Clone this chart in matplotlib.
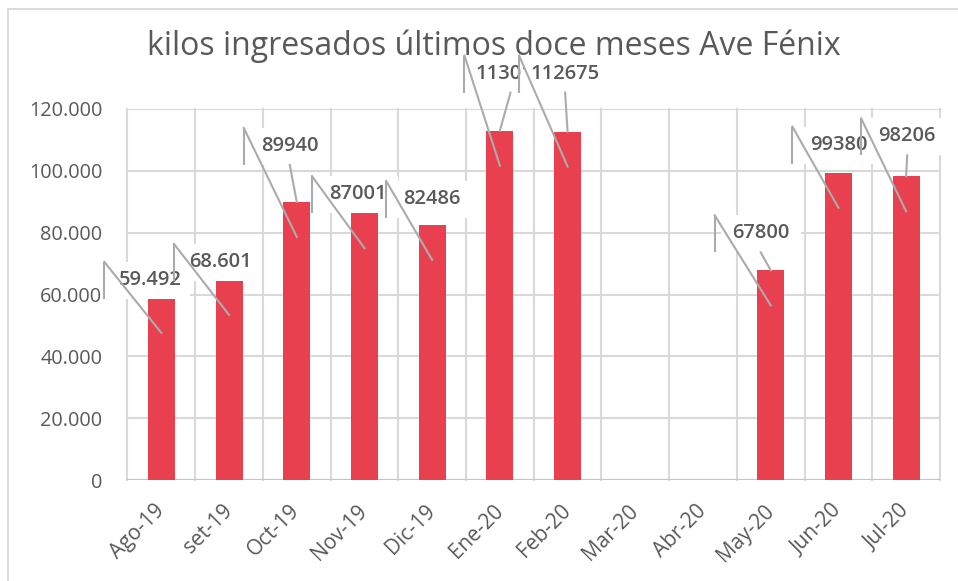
import numpy as np
import matplotlib
matplotlib.use("Agg")
import matplotlib.pyplot as plt
from matplotlib.lines import Line2D
from matplotlib.patches import Rectangle

# ---------------- data ----------------
meses = ["Ago-19", "set-19", "Oct-19", "Nov-19", "Dic-19", "Ene-20",
         "Feb-20", "Mar-20", "Abr-20", "May-20", "Jun-20", "Jul-20"]
kilos = [58900, 64700, 89940, 86300, 82486, 113000,
         112675, np.nan, np.nan, 67800, 99380, 98206]
etiquetas = ["59.492", "68.601", "89940", "87001", "82486", "113012",
             "112675", "", "", "67800", "99380", "98206"]
titulo = "kilos ingresados últimos doce meses Ave Fénix"

# ---------------- layout / style ----------------
# label centre offsets (pixels, x right / y up) from each bar top
lab_dx = [-11, -9, -7, -6.5, 0, 10.6, -2.5, 0, 0, -10, 0, 1]
lab_dy = [18, 18, 56, 19, 26, 57, 58, 0, 0, 37, 28, 40]

RED = "#E8404F"
GRID = "#D9D9D9"
TXT = "#595959"
LEAD = "#ABABAB"
W, H = 958, 581

plt.rcParams["font.family"] = ["Open Sans", "DejaVu Sans"]

fig = plt.figure(figsize=(W / 100, H / 100), dpi=100)
ax = fig.add_axes([127.5 / W, 1 - 480 / H, (940 - 127.5) / W, (480 - 109) / H])

x = np.arange(len(meses))
vals = np.array(kilos, dtype=float)
m = ~np.isnan(vals)
ax.bar(x[m], vals[m], width=0.4, color=RED, zorder=2)

ax.set_xlim(-0.5, len(meses) - 0.5)
ax.set_ylim(0, 120000)
yt = np.arange(0, 120001, 20000)
ax.set_yticks(yt)
ax.set_yticklabels([f"{int(v):,}".replace(",", ".") for v in yt],
                   color=TXT, fontsize=14.3)
ax.set_xticks(x)
ax.set_xticklabels(meses, rotation=45, ha="right", va="center",
                   rotation_mode="anchor", color=TXT, fontsize=15)
ax.tick_params(axis="y", length=0, pad=18)
ax.tick_params(axis="x", length=0, pad=20)
for s in ax.spines.values():
    s.set_visible(False)

# gridlines
for v in yt[1:]:
    ax.axhline(v, color=GRID, lw=1.5, zorder=0.5)
for b in np.arange(-0.5, len(meses), 1.0):
    ax.plot([b, b], [0, 120000], color=GRID, lw=1.5, zorder=0.5, clip_on=False)
ax.axhline(0, color="#C4C4C4", lw=1.6, zorder=1)

fig.text(494 / W, 1 - 46 / H, titulo, fontsize=23, color=TXT,
         ha="center", va="center")

# ---------------- data labels with callout lines ----------------
inv = ax.transData.inverted()


def to_data(px, py):
    return inv.transform((px, py))


box_l, box_r, box_t, box_b = 40, 40, 18, 19
z = 3.0
for i in range(len(meses)):
    if not m[i] or not etiquetas[i]:
        continue
    bx, by = ax.transData.transform((x[i], vals[i]))
    cx, cy = bx + lab_dx[i], by + lab_dy[i]
    # white box
    (x0, y0) = to_data(cx - box_l, cy - box_b)
    (x1, y1) = to_data(cx + box_r, cy + box_t)
    ax.add_patch(Rectangle((x0, y0), x1 - x0, y1 - y0, facecolor="white",
                           edgecolor="none", zorder=z, clip_on=False))
    tx, ty = to_data(cx, cy)
    ax.text(tx, ty, etiquetas[i], ha="center", va="center", fontsize=14.5,
            fontweight="semibold", color=TXT, zorder=z + 0.05, clip_on=False)
    z += 0.1
    # vertical bracket at left of label
    p1 = to_data(cx - 46, cy + box_t)
    p2 = to_data(cx - 46, cy - box_b)
    ax.plot([p1[0], p2[0]], [p1[1], p2[1]], color=LEAD, lw=1.5,
            zorder=10, clip_on=False, solid_capstyle="butt")
    # diagonal into the bar
    p3 = to_data(bx, by - 35)
    ax.plot([p1[0], p3[0]], [p1[1], p3[1]], color=LEAD, lw=1.5,
            zorder=10, clip_on=False)
    # short leader from label to bar top
    if (cy - box_b) - by > 12:
        p4 = to_data(cx, cy - box_b)
        p5 = to_data(bx, by)
        ax.plot([p4[0], p5[0]], [p4[1], p5[1]], color=LEAD, lw=1.5,
                zorder=10, clip_on=False)

# outer chart border (left and top visible)
fig.add_artist(Line2D([8 / W, 8 / W], [0, 1 - 9 / H], color=GRID, lw=1.3))
fig.add_artist(Line2D([8 / W, 1], [1 - 9 / H, 1 - 9 / H], color=GRID, lw=1.3))

fig.savefig("out.png", dpi=100)
